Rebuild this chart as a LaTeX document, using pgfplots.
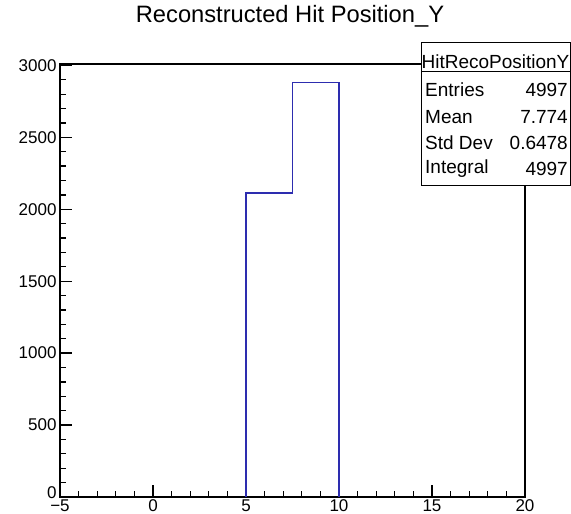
\documentclass[border=0pt]{standalone}
\usepackage{fontspec}
\setmainfont{Liberation Sans}
\usepackage{pgfplots}
\pgfplotsset{compat=1.18}
\definecolor{histblue}{RGB}{45,45,175}
\begin{document}
\begin{tikzpicture}[x=1pt,y=1pt]
\useasboundingbox (0,0) rectangle (571,514);
\begin{axis}[at={(60pt,17pt)}, anchor=south west, scale only axis,
  width=465pt, height=433pt,
  xmin=-5, xmax=20, ymin=0, ymax=3010,
  xtick={-5,0,5,10,15,20},
  xticklabels={−5,0,5,10,15,20},
  ytick={0,500,1000,1500,2000,2500,3000},
  yticklabels={\raisebox{9pt}{0},500,1000,1500,2000,2500,3000},
  minor x tick num=4, minor y tick num=4,
  xtick pos=bottom, ytick pos=left, tick align=inside,
  major tick length=12pt, minor tick length=6pt,
  axis line style={line width=1.3pt},
  major tick style={black, line width=1.3pt},
  minor tick style={black, line width=1.3pt},
  ticklabel style={font=\fontsize{17}{17}\selectfont},
  /pgf/number format/assume math mode=true,
  scaled y ticks=false,
  xticklabel style={inner sep=1pt, yshift=-1.5pt},
]
\addplot[histblue, line width=1.8pt, sharp plot] coordinates {
  (5,0) (5,2115) (7.5,2115) (7.5,2882) (10,2882) (10,0)
};
\end{axis}
\node[font=\fontsize{23.7}{23.7}\selectfont] at (290,498) {Reconstructed Hit Position\_Y};
\draw[line width=1pt, fill=white] (421,328) rectangle (570,471.5);
\draw[line width=1pt] (421,442) -- (570,442);
\node[font=\fontsize{19}{19}\selectfont] at (495.5,452) {HitRecoPositionY};
\foreach \lab/\val/\yy in {Entries/4997/424, Mean/7.774/397.3, Std Dev/0.6478/371, Integral/4997/345}{
  \node[anchor=west, font=\fontsize{19}{19}\selectfont, inner sep=0pt] at (425,\yy) {\lab};
  \node[anchor=east, font=\fontsize{19}{19}\selectfont, inner sep=0pt] at (568,\yy) {\val};
}
\end{tikzpicture}
\end{document}
